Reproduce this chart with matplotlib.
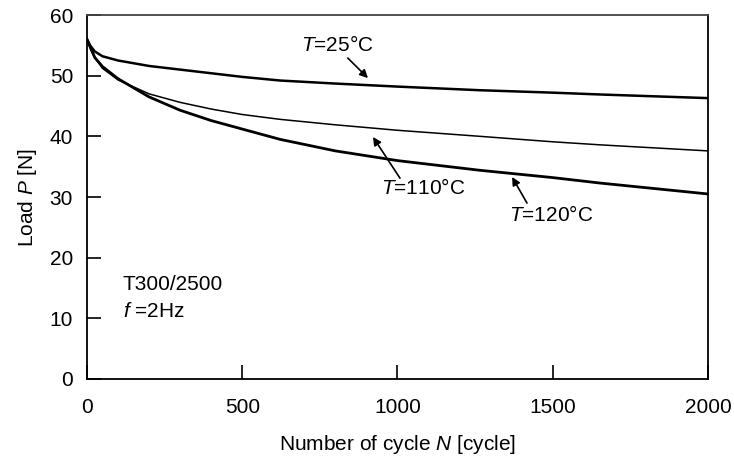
import matplotlib
matplotlib.use("Agg")
import matplotlib.pyplot as plt

plt.rcParams['font.family'] = ['Liberation Sans', 'DejaVu Sans']
plt.rcParams['mathtext.fontset'] = 'custom'
plt.rcParams['mathtext.rm'] = 'Liberation Sans'
plt.rcParams['mathtext.it'] = 'Liberation Sans:italic'

# Data
n_25 = [0, 10, 25, 50, 100, 200, 300, 400, 500, 622, 800, 1000, 1266, 1500, 1652, 2000]
p_25 = [56.0, 55.0, 54.0, 53.2, 52.5, 51.6, 51.0, 50.4, 49.8, 49.2, 48.7, 48.2, 47.6, 47.2, 46.9, 46.3]

n_110 = [0, 10, 25, 50, 100, 200, 300, 400, 500, 622, 800, 1000, 1266, 1500, 1652, 2000]
p_110 = [56.0, 54.5, 53.0, 51.2, 49.3, 47.0, 45.6, 44.5, 43.6, 42.8, 41.9, 41.0, 40.0, 39.1, 38.6, 37.6]

n_120 = [0, 10, 25, 50, 100, 200, 300, 400, 500, 622, 800, 1000, 1266, 1500, 1652, 2000]
p_120 = [56.0, 54.8, 53.0, 51.5, 49.5, 46.5, 44.3, 42.6, 41.2, 39.5, 37.6, 36.0, 34.4, 33.2, 32.3, 30.5]

FS = 15

fig = plt.figure(figsize=(7.34, 4.59), dpi=100)
ax = fig.add_axes([0.1185, 0.1743, 0.8461, 0.7930])

ax.plot(n_25, p_25, color='black', lw=1.8)
ax.plot(n_110, p_110, color='black', lw=1.1)
ax.plot(n_120, p_120, color='black', lw=2.0)

ax.set_xlim(0, 2000)
ax.set_ylim(0, 60)
ax.set_xticks([0, 500, 1000, 1500, 2000])
ax.set_yticks([0, 10, 20, 30, 40, 50, 60])
ax.tick_params(direction='in', length=10, width=1.2, labelsize=FS,
               top=False, right=False)
ax.tick_params(axis='x', pad=14)
ax.tick_params(axis='y', pad=10)
for s in ['left', 'bottom', 'right', 'top']:
    ax.spines[s].set_linewidth(1.3)
ax.spines['top'].set_color('#444444')

ax.set_xlabel(r'Number of cycle $\mathit{N}$ [cycle]', fontsize=FS, labelpad=11)
ax.set_ylabel(r'Load $\mathit{P}$ [N]', fontsize=FS, labelpad=8)

arrow = dict(arrowstyle='-|>', color='black', lw=1.2, mutation_scale=12, shrinkA=0, shrinkB=0)
ax.annotate('', xy=(905, 49.6), xytext=(840, 52.9), arrowprops=arrow)
ax.text(805, 55.0, r'$\mathit{T}$=25°C', fontsize=FS, ha='center', va='center')

ax.annotate('', xy=(921, 39.9), xytext=(1008, 33.1), arrowprops=arrow)
ax.text(1082, 31.5, r'$\mathit{T}$=110°C', fontsize=FS, ha='center', va='center')

ax.annotate('', xy=(1369, 33.3), xytext=(1417, 29.0), arrowprops=arrow)
ax.text(1494, 27.0, r'$\mathit{T}$=120°C', fontsize=FS, ha='center', va='center')

ax.text(116, 15.5, 'T300/2500', fontsize=FS, ha='left', va='center')
ax.text(116, 11.2, r'$\mathit{f}$ =2Hz', fontsize=FS, ha='left', va='center')

fig.savefig('out.png', dpi=100)
